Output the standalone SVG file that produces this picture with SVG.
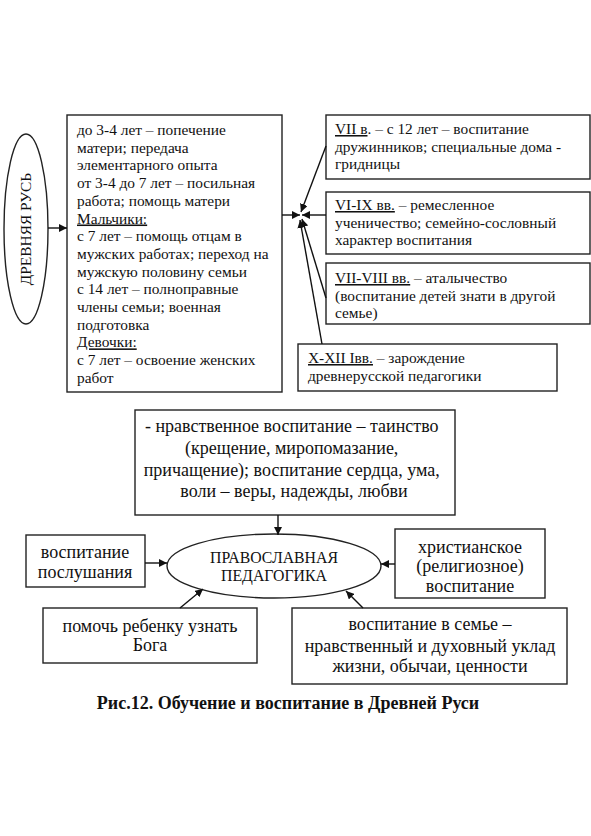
<svg xmlns="http://www.w3.org/2000/svg" width="591" height="836" viewBox="0 0 591 836">
<style>
.b{fill:#fff;stroke:#222;stroke-width:1.4}
.t{font-family:"Liberation Serif","Times New Roman",serif;font-size:15.4px;fill:#111}
.m{font-family:"Liberation Serif","Times New Roman",serif;font-size:18px;fill:#111;text-anchor:middle}
.u{text-decoration:underline}
.c{stroke:#111;stroke-width:1.4;fill:none;marker-end:url(#a)}
</style>
<defs>
<marker id="a" viewBox="0 0 10 10" refX="10" refY="5" markerWidth="8" markerHeight="8" markerUnits="userSpaceOnUse" orient="auto">
<path d="M0,0L10,5L0,10z" fill="#111"/>
</marker>
</defs>
<rect width="591" height="836" fill="#fff"/>
<g id="rus">
<ellipse class="b" cx="26" cy="229" rx="22" ry="95"/>
<text class="t" transform="translate(31,229) rotate(-90)" text-anchor="middle">ДРЕВНЯЯ РУСЬ</text>
</g>
<g id="ages">
<rect class="b" x="67" y="115" width="215" height="277"/>
<text class="t" x="77">
<tspan x="77" y="135">до 3-4 лет – попечение</tspan>
<tspan x="77" y="152.7">матери; передача</tspan>
<tspan x="77" y="170.4">элементарного опыта</tspan>
<tspan x="77" y="188.1">от 3-4 до 7 лет – посильная</tspan>
<tspan x="77" y="205.8">работа; помощь матери</tspan>
<tspan x="77" y="223.5" class="u">Мальчики:</tspan>
<tspan x="77" y="241.2">с 7 лет – помощь отцам в</tspan>
<tspan x="77" y="258.9">мужских работах; переход на</tspan>
<tspan x="77" y="276.6">мужскую половину семьи</tspan>
<tspan x="77" y="294.3">с 14 лет – полноправные</tspan>
<tspan x="77" y="312">члены семьи; военная</tspan>
<tspan x="77" y="329.7">подготовка</tspan>
<tspan x="77" y="347.4" class="u">Девочки:</tspan>
<tspan x="77" y="365.1">с 7 лет – освоение женских</tspan>
<tspan x="77" y="382.8">работ</tspan>
</text>
</g>
<g id="vii">
<rect class="b" x="326" y="115" width="264" height="64"/>
<text class="t"><tspan x="335" y="134"><tspan class="u">VII в</tspan>. – с 12 лет – воспитание</tspan>
<tspan x="335" y="151.5">дружинников; специальные дома -</tspan>
<tspan x="335" y="169">гридницы</tspan></text>
</g>
<g id="vi-ix">
<rect class="b" x="326" y="192" width="264" height="62"/>
<text class="t"><tspan x="335" y="210"><tspan class="u">VI-IX вв.</tspan> – ремесленное</tspan>
<tspan x="335" y="227.5">ученичество; семейно-сословный</tspan>
<tspan x="335" y="245">характер воспитания</tspan></text>
</g>
<g id="vii-viii">
<rect class="b" x="326" y="263" width="264" height="61"/>
<text class="t"><tspan x="335" y="283"><tspan class="u">VII-VIII вв.</tspan> – аталычество</tspan>
<tspan x="335" y="300.5">(воспитание детей знати в другой</tspan>
<tspan x="335" y="318">семье)</tspan></text>
</g>
<g id="x-xii">
<rect class="b" x="298" y="344" width="259" height="47"/>
<text class="t"><tspan x="308" y="363"><tspan class="u">X-XII Iвв.</tspan> – зарождение</tspan>
<tspan x="308" y="381">древнерусской педагогики</tspan></text>
</g>
<g id="moral">
<rect class="b" x="135" y="410" width="320" height="105"/>
<text class="m"><tspan x="294" y="432">- нравственное воспитание – таинство</tspan>
<tspan x="294" y="454">(крещение, миропомазание,</tspan>
<tspan x="294" y="476">причащение); воспитание сердца, ума,</tspan>
<tspan x="294" y="497">воли – веры, надежды, любви</tspan></text>
</g>
<g id="orth">
<ellipse class="b" cx="274" cy="566" rx="107" ry="32"/>
<text class="m" style="font-size:15.8px"><tspan x="274" y="563">ПРАВОСЛАВНАЯ</tspan><tspan x="274" y="581">ПЕДАГОГИКА</tspan></text>
</g>
<g id="obed">
<rect class="b" x="26" y="535" width="119" height="52"/>
<text class="m"><tspan x="85" y="558">воспитание</tspan><tspan x="85" y="578">послушания</tspan></text>
</g>
<g id="god">
<rect class="b" x="43" y="608" width="214" height="55"/>
<text class="m"><tspan x="150" y="632">помочь ребенку узнать</tspan><tspan x="150" y="651">Бога</tspan></text>
</g>
<g id="christ">
<rect class="b" x="395" y="529" width="150" height="69"/>
<text class="m"><tspan x="470" y="553">христианское</tspan><tspan x="470" y="572">(религиозное)</tspan><tspan x="470" y="592">воспитание</tspan></text>
</g>
<g id="family">
<rect class="b" x="292" y="608" width="275" height="76"/>
<text class="m"><tspan x="430" y="630">воспитание в семье –</tspan><tspan x="430" y="652">нравственный и духовный уклад</tspan><tspan x="430" y="672">жизни, обычаи, ценности</tspan></text>
</g>
<g id="connectors">
<line class="c" x1="48" y1="228" x2="67" y2="228"/>
<line class="c" x1="282" y1="215" x2="300" y2="215"/>
<line class="c" x1="326" y1="146" x2="301" y2="212"/>
<line class="c" x1="326" y1="215" x2="302" y2="215"/>
<line class="c" x1="326" y1="298" x2="302" y2="219"/>
<line class="c" x1="322" y1="344" x2="300" y2="220"/>
<line class="c" x1="278" y1="515" x2="278" y2="535"/>
<line class="c" x1="145" y1="563" x2="167" y2="563"/>
<line class="c" x1="180" y1="608" x2="203" y2="589"/>
<line class="c" x1="395" y1="564" x2="381" y2="564"/>
<line class="c" x1="363" y1="608" x2="346" y2="591"/>
</g>
<text id="caption" x="288" y="709" text-anchor="middle" style="font-family:'Liberation Serif','Times New Roman',serif;font-size:18px;font-weight:bold;fill:#111">Рис.12. Обучение и воспитание в Древней Руси</text>
</svg>
